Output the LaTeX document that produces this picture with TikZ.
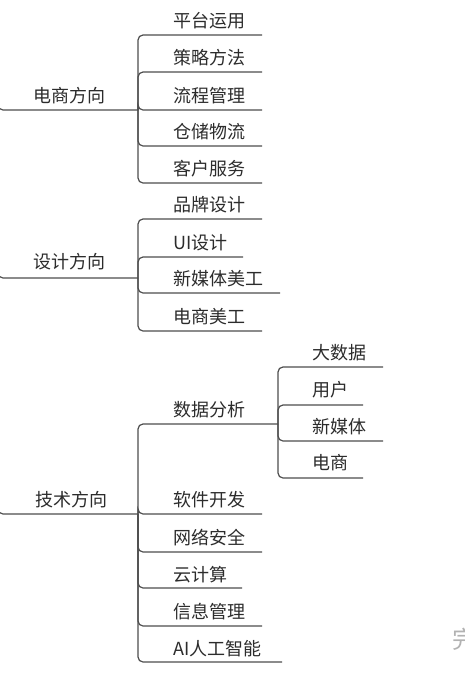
\documentclass[tikz,border=0pt]{standalone}
\usepackage{fontspec}
\newfontfamily\cjk{Noto Sans CJK SC}
\definecolor{lnc}{HTML}{4E4E4E}
\definecolor{txc}{HTML}{2C2C2C}
\begin{document}
\begin{tikzpicture}[x=1pt,y=-1pt,
  link/.style={draw=lnc, line width=1.2pt, rounded corners=5pt},
  lbl/.style={font=\cjk\fontsize{18}{18}\selectfont, text=txc, inner sep=0pt, anchor=west}]
\useasboundingbox[fill=white] (0,0) rectangle (464,678);

% ---------- 电商方向 ----------
\node[lbl] (r1) at (33,96) {电商方向};
\coordinate (r1s) at (-2,95);
\coordinate (j1) at (138,110);
\node[lbl] (e1) at (173,21) {平台运用};
\node[lbl] (e2) at (173,58) {策略方法};
\node[lbl] (e3) at (173,96) {流程管理};
\node[lbl] (e4) at (173,132) {仓储物流};
\node[lbl] (e5) at (173,169) {客户服务};
\coordinate (e1e) at (262,35);
\coordinate (e2e) at (262,72);
\coordinate (e3e) at (262,110);
\coordinate (e4e) at (262,146);
\coordinate (e5e) at (262,183);
\draw[link] (r1s) |- (j1);
\foreach \c in {e1e,e2e,e3e,e4e,e5e} \draw[link] (j1) |- (\c);

% ---------- 设计方向 ----------
\node[lbl] (r2) at (33,262) {设计方向};
\coordinate (r2s) at (-2,263);
\coordinate (j2) at (138,278);
\node[lbl] (d1) at (173,205) {品牌设计};
\node[lbl] (d2) at (173,243) {UI设计};
\node[lbl] (d3) at (173,279) {新媒体美工};
\node[lbl] (d4) at (173,317) {电商美工};
\coordinate (d1e) at (262,219);
\coordinate (d2e) at (243,257);
\coordinate (d3e) at (280,293);
\coordinate (d4e) at (262,331);
\draw[link] (r2s) |- (j2);
\foreach \c in {d1e,d2e,d3e,d4e} \draw[link] (j2) |- (\c);

% ---------- 技术方向 ----------
\node[lbl] (r3) at (35,500) {技术方向};
\coordinate (r3s) at (-2,499);
\coordinate (j3) at (138,514);
\node[lbl] (t0) at (173,410) {数据分析};
\coordinate (j4) at (278,424);
\node[lbl] (t1) at (173,500) {软件开发};
\node[lbl] (t2) at (173,538) {网络安全};
\node[lbl] (t3) at (173,575) {云计算};
\node[lbl] (t4) at (173,612) {信息管理};
\node[lbl] (t5) at (173,649) {AI人工智能};
\coordinate (t1e) at (262,514);
\coordinate (t2e) at (262,552);
\coordinate (t3e) at (242,588);
\coordinate (t4e) at (262,626);
\coordinate (t5e) at (282,662);
\draw[link] (r3s) |- (j3);
\foreach \c in {j4,t1e,t2e,t3e,t4e,t5e} \draw[link] (j3) |- (\c);

% ---------- 数据分析 sub-branch ----------
\node[lbl] (s1) at (312,353) {大数据};
\node[lbl] (s2) at (312,390) {用户};
\node[lbl] (s3) at (312,427) {新媒体};
\node[lbl] (s4) at (312,463) {电商};
\coordinate (s1e) at (383,367);
\coordinate (s2e) at (363,405);
\coordinate (s3e) at (383,441);
\coordinate (s4e) at (363,478);
\foreach \c in {s1e,s2e,s3e,s4e} \draw[link] (j4) |- (\c);

% partial watermark glyph at right edge
\node[font=\cjk\fontsize{24}{24}\selectfont, text=black!30, inner sep=0pt, anchor=west] (wm) at (452,639) {完};
\end{tikzpicture}
\end{document}
